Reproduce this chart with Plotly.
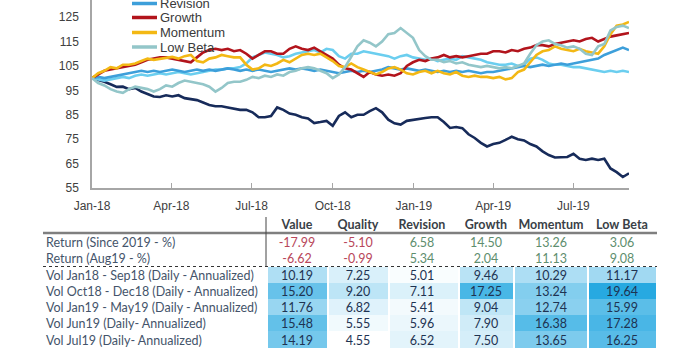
import plotly.graph_objects as go
import pandas as pd

W, H = 699, 350

# ---------------- data: line chart (weekly index levels, start = 100) ----------------
DATES = pd.date_range("2018-01-01", periods=88, freq="7D")

VALUE = [100, 99.3, 98.5, 97.5, 96.4, 96.5, 95.5, 96, 94.5, 93.5,
         92.5, 92.3, 93, 92.5, 93, 91.8, 91.5, 91, 90, 89,
         88.5, 88.5, 88, 87.5, 87, 87, 86, 84, 84, 84.5,
         88, 87, 85.5, 85, 84, 83.5, 81.6, 82, 82.5, 80.5,
         84.5, 86, 84, 85, 85, 86.5, 87.7, 86, 83, 81.5,
         81, 82.5, 83, 83.5, 83.7, 84, 84, 82, 79.6, 80,
         79.5, 77, 75.5, 73.5, 72, 73, 73.5, 74.7, 76, 75,
         74.5, 73, 72, 70, 68.5, 67.5, 67.5, 67.7, 69, 67,
         66.5, 67, 66.5, 67, 63, 61.5, 59.5, 61]

QUALITY = [100, 99.5, 99, 99.5, 100, 100.5, 100, 101, 101.5, 101,
           101.5, 102, 101.5, 102, 102.5, 102, 101.5, 102, 102.5, 103,
           103.5, 103.5, 104, 104, 104.5, 106, 108.5, 109.5, 110.5, 110,
           109.5, 108.5, 109, 110, 110.5, 111, 111.5, 110.5, 112, 111.5,
           109, 108, 110, 110, 111, 110.5, 110, 109.5, 109, 108,
           109, 109.5, 108.5, 108, 107.5, 108, 107, 107.5, 108, 107.5,
           109, 108.5, 108, 107.5, 106.5, 106, 105.5, 105.5, 106, 105,
           105.5, 108, 108.5, 107.5, 106, 105.5, 105.5, 105, 104.5, 104.5,
           104, 103.5, 103, 102.5, 103, 102.5, 103, 102.5]

REVISION = [100, 100.5, 100, 100.5, 101, 101.5, 102, 102.5, 103, 102.5,
            103, 102.5, 103, 103.5, 103, 102.5, 103, 103.5, 103, 103.5,
            103, 103.5, 104, 103.5, 103, 103.5, 103, 103.5, 103, 102.5,
            103, 103.5, 104, 103.5, 104, 103.5, 103, 103.5, 103, 102.5,
            102, 102.5, 103, 102.5, 103, 102.5, 103, 103.5, 104.5, 104,
            103.5, 104, 103.5, 103, 103.5, 103, 102.5, 103, 102.5, 103,
            102.5, 103, 102.5, 102, 102.5, 102.5, 103, 103.5, 104, 104.5,
            105, 104.5, 105, 105.5, 105, 105.5, 106, 105.5, 106, 106.5,
            107, 107.5, 108, 109.5, 110.5, 111.5, 112.5, 111.5]

GROWTH = [100, 101.5, 103, 103.5, 104, 104.5, 105, 105.5, 106.5, 107.5,
          108, 108.5, 108.5, 108, 107.5, 107, 106.5, 108.5, 110.5, 111.5,
          112, 111.5, 112, 111, 111.5, 110, 108, 109.5, 111, 111,
          110, 110, 112, 113, 112, 111.5, 112.5, 111, 109.5, 108,
          105.5, 104, 103.5, 102, 100.5, 102.5, 101.5, 101, 101.5, 101,
          102, 105, 106.5, 107.5, 107, 108, 108.5, 109.5, 108.5, 109,
          108.5, 109, 109.5, 110, 110, 111, 111, 110.5, 111.5, 111,
          112, 112.5, 113.5, 113.5, 113, 114, 114.5, 115, 115.5, 115,
          116, 116.5, 115, 116, 117, 117.5, 118, 118.5]

MOMENTUM = [100, 102, 103, 104.5, 104, 105.5, 105.5, 106, 107, 108,
            107.5, 108, 108.5, 108.7, 108, 109, 109.5, 107, 106.5, 108,
            108.5, 109.5, 109, 108.5, 108.5, 105.5, 103.5, 104, 105.5, 105,
            106, 107.5, 106.5, 108, 109.5, 110, 109.5, 110, 108.5, 107,
            105, 104.5, 106, 104.5, 103.5, 102.5, 101.5, 102.5, 104, 104.5,
            103.5, 102, 101.5, 102.5, 103, 102, 103, 102, 101.5, 102.5,
            101, 100.5, 101, 100.5, 100.5, 100, 100.5, 99.5, 100, 102.5,
            103.5, 106.5, 109.5, 111, 111.5, 113, 112, 111.5, 111, 112,
            111, 110.5, 110, 113, 118, 121.5, 122, 123]

LOW_BETA = [100, 98, 97, 95.5, 94.5, 94, 95.5, 96.5, 96, 95.5,
            94.5, 95.5, 97, 96.5, 98, 99, 98.5, 98, 97.5, 96.5,
            94.5, 96, 98, 98.5, 98.5, 99.3, 100.5, 100, 101, 100.5,
            101.5, 101, 102.5, 103, 104, 104.5, 104, 103, 102, 100,
            101.5, 104.5, 109, 113, 115.5, 114.5, 113, 115, 118, 118.5,
            120.5, 118.5, 116.5, 111.5, 109, 107.5, 107.5, 106.5, 107, 106,
            106.5, 105.5, 105, 104.5, 105, 104.5, 104, 104.5, 104, 105,
            106, 110, 113.5, 115, 115.5, 114, 113.5, 112.5, 113, 112,
            110, 109.5, 113, 114, 119.5, 121, 121.5, 120.5]

SERIES_NAMES = ["Value", "Quality", "Revision", "Growth", "Momentum", "Low Beta"]
SERIES_VALUES = [VALUE, QUALITY, REVISION, GROWTH, MOMENTUM, LOW_BETA]
SERIES_COLORS = ["#172B5A", "#6BCEEF", "#3D9FDA", "#B2141C", "#F3B814", "#93C6C9"]

X_TICK_DATES = ["2018-01-01", "2018-04-01", "2018-07-01", "2018-10-01",
                "2019-01-01", "2019-04-01", "2019-07-01"]
X_TICK_LABELS = ["Jan-18", "Apr-18", "Jul-18", "Oct-18", "Jan-19", "Apr-19", "Jul-19"]

# ---------------- data: table ----------------
TABLE_COLUMNS = ["Value", "Quality", "Revision", "Growth", "Momentum", "Low Beta"]
RETURN_LABELS = ["Return (Since 2019 - %)", "Return (Aug19 - %)"]
RETURN_SINCE_2019 = [-17.99, -5.10, 6.58, 14.50, 13.26, 3.06]
RETURN_AUG19 = [-6.62, -0.99, 5.34, 2.04, 11.13, 9.08]

VOL_LABELS = ["Vol Jan18 - Sep18 (Daily - Annualized)",
              "Vol Oct18 - Dec18 (Daily - Annualized)",
              "Vol Jan19 - May19 (Daily - Annualized)",
              "Vol Jun19 (Daily- Annualized)",
              "Vol Jul19 (Daily- Annualized)"]
VOL_JAN18_SEP18 = [10.19, 7.25, 5.01, 9.46, 10.29, 11.17]
VOL_OCT18_DEC18 = [15.20, 9.20, 7.11, 17.25, 13.24, 19.64]
VOL_JAN19_MAY19 = [11.76, 6.82, 5.41, 9.04, 12.74, 15.99]
VOL_JUN19 = [15.48, 5.55, 5.96, 7.90, 16.38, 17.28]
VOL_JUL19 = [14.19, 4.55, 6.52, 7.50, 13.65, 16.25]

# ---------------- layout constants (pixels) ----------------
CHART_FONT = "Arial, Liberation Sans, sans-serif"
TABLE_FONT = "Lato, Carlito, sans-serif"
TABLE_SIZE = 12.5
COL_EDGES = [267, 327.5, 388.5, 458.5, 513.5, 587.5, 657]
COL_CENTERS = [297, 358, 422, 486, 551, 622]
ROW_EDGES = [267, 283, 299, 315, 331, 348]
VOL_TEXT_SHIFT = 2.5
TOP_TEXT_SHIFT = 0.5
HEADER_Y = 225
RETURN_Y = [243, 259]
LABEL_X = 46

fig = go.Figure()

for name, vals, color in zip(SERIES_NAMES, SERIES_VALUES, SERIES_COLORS):
    fig.add_trace(go.Scatter(x=DATES, y=vals, mode="lines", name=name,
                             line=dict(color=color, width=2.6),
                             showlegend=False, hoverinfo="skip",
                             xaxis="x", yaxis="y"))

# heatmap of volatility cells
vol_rows = [VOL_JAN18_SEP18, VOL_OCT18_DEC18, VOL_JAN19_MAY19, VOL_JUN19, VOL_JUL19]
fig.add_trace(go.Heatmap(z=vol_rows, x=COL_EDGES, y=ROW_EDGES,
                         colorscale=[[0, "#FFFFFF"], [1, "#27A9E1"]],
                         zmin=4.6, zmax=19.64, showscale=False, xgap=2, ygap=0,
                         hoverinfo="skip", xaxis="x2", yaxis="y2"))

row_centers = [(ROW_EDGES[i] + ROW_EDGES[i + 1]) / 2 - 0.5 for i in range(5)]

# vol numbers
for vals, yy in zip(vol_rows, row_centers):
    fig.add_trace(go.Scatter(x=COL_CENTERS, y=[yy + VOL_TEXT_SHIFT] * 6, mode="text",
                             text=["%.2f" % v for v in vals],
                             textfont=dict(family=TABLE_FONT, size=TABLE_SIZE, color="#1E3352"),
                             showlegend=False, hoverinfo="skip", xaxis="x2", yaxis="y2"))

# header
fig.add_trace(go.Scatter(x=COL_CENTERS, y=[HEADER_Y + TOP_TEXT_SHIFT] * 6, mode="text",
                         text=["<b>%s</b>" % c for c in TABLE_COLUMNS],
                         textfont=dict(family=TABLE_FONT, size=TABLE_SIZE, color="#3A3F47"),
                         showlegend=False, hoverinfo="skip", xaxis="x2", yaxis="y2"))

# return rows
for vals, yy in zip([RETURN_SINCE_2019, RETURN_AUG19], RETURN_Y):
    fig.add_trace(go.Scatter(x=COL_CENTERS, y=[yy + TOP_TEXT_SHIFT] * 6, mode="text",
                             text=["%.2f" % v for v in vals],
                             textfont=dict(family=TABLE_FONT, size=TABLE_SIZE,
                                           color=["#B8465A" if v < 0 else "#5E8E6E" for v in vals]),
                             showlegend=False, hoverinfo="skip", xaxis="x2", yaxis="y2"))

# row labels
row_label_y = ([y + TOP_TEXT_SHIFT for y in RETURN_Y] +
               [y + VOL_TEXT_SHIFT for y in row_centers])
fig.add_trace(go.Scatter(x=[LABEL_X] * 7, y=row_label_y, mode="text",
                         text=RETURN_LABELS + VOL_LABELS, textposition="middle right",
                         textfont=dict(family=TABLE_FONT, size=TABLE_SIZE, color="#44546A"),
                         showlegend=False, hoverinfo="skip", xaxis="x2", yaxis="y2"))

shapes = [
    dict(type="line", xref="x2", yref="y2", x0=43, x1=657, y0=233, y1=233,
         line=dict(color="#7F7F7F", width=2.5)),
    dict(type="line", xref="x2", yref="y2", x0=43, x1=657, y0=266.5, y1=266.5,
         line=dict(color="#333333", width=1, dash="dot")),
    dict(type="line", xref="x2", yref="y2", x0=266, x1=266, y0=217, y1=266,
         line=dict(color="#444444", width=1)),
]

# manual legend (the Value and Quality entries sit above the visible page)
annotations = []
legend_entries = [("Revision", 3.5), ("Growth", 17.5), ("Momentum", 32.5), ("Low Beta", 47)]
for name, py in legend_entries:
    color = SERIES_COLORS[SERIES_NAMES.index(name)]
    shapes.append(dict(type="line", xref="paper", yref="paper",
                       x0=132 / W, x1=157 / W, y0=1 - py / H, y1=1 - py / H,
                       line=dict(color=color, width=3.5)))
    annotations.append(dict(text=name, xref="paper", yref="paper", x=158 / W, y=1 - py / H,
                            xanchor="left", yanchor="middle", showarrow=False,
                            font=dict(family=CHART_FONT, size=13, color="#3A3A3A")))

fig.update_layout(
    width=W, height=H,
    margin=dict(l=0, r=0, t=0, b=0, autoexpand=False),
    paper_bgcolor="white", plot_bgcolor="rgba(0,0,0,0)",
    showlegend=False,
    shapes=shapes, annotations=annotations,
    xaxis=dict(type="date", domain=[92 / W, 629 / W], range=["2018-01-01", "2019-09-02"],
               tickvals=X_TICK_DATES, ticktext=X_TICK_LABELS,
               ticks="inside", ticklen=5, tickcolor="#A6A6A6", tickwidth=1,
               showline=True, linecolor="#A6A6A6", linewidth=1.5,
               showgrid=False, zeroline=False, ticklabelstandoff=6,
               tickfont=dict(family=CHART_FONT, size=12, color="#404040"),
               anchor="y"),
    yaxis=dict(domain=[1 - 188 / H, 1], range=[55, 132], tick0=55, dtick=10,
               showline=True, linecolor="#A6A6A6", linewidth=1.5, ticks="",
               showgrid=False, zeroline=False, ticklabelstandoff=9,
               tickfont=dict(family=CHART_FONT, size=12, color="#404040"),
               anchor="x"),
    xaxis2=dict(domain=[0, 1], range=[0, W], visible=False, anchor="y2"),
    yaxis2=dict(domain=[0, 140 / H], range=[350, 210], visible=False, anchor="x2"),
)

fig.write_html("out.html")
